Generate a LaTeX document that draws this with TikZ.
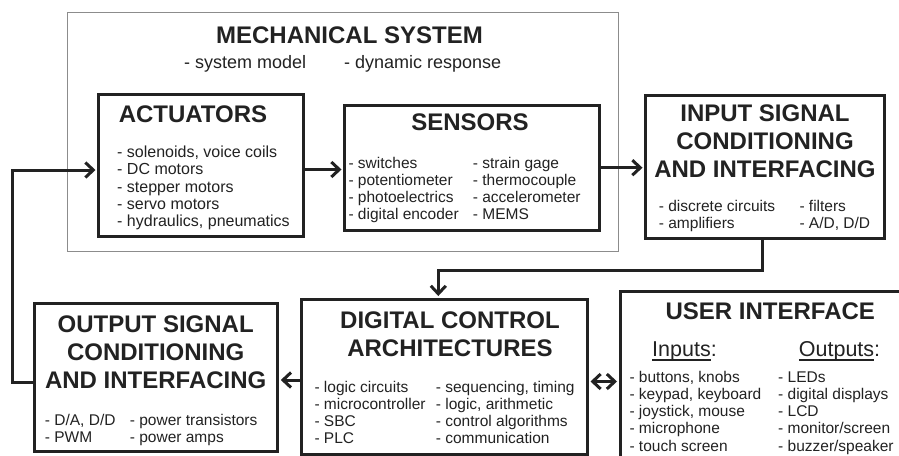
\documentclass[tikz,border=0pt]{standalone}
\usepackage{fontspec}
\setmainfont{Liberation Sans}
\usetikzlibrary{arrows.meta,calc}
\definecolor{ink}{HTML}{222222}
\definecolor{framegray}{HTML}{8C8C8C}
\newcommand\ttlfont{\bfseries\fontsize{24}{28}\selectfont}
\newcommand\itmfont{\fontsize{15.5}{17.2}\selectfont}
\newcommand\actfont{\fontsize{16}{17.2}\selectfont}
\newcommand\colbox[1]{\parbox[t]{200pt}{\raggedright #1}}
\newcommand\ttlbox[1]{\parbox[t]{260pt}{\centering #1}}
\newcommand\undl[1]{\setbox0\hbox{#1}\rlap{\rule[-4pt]{\wd0}{1.3pt}}\box0}
\tikzset{
  blk/.style={draw=ink, line width=3pt, inner sep=0pt, anchor=north west},
  ttl/.style={anchor=base, inner sep=0pt, font=\ttlfont, text=ink},
  itm/.style={anchor=base west, inner sep=0pt, font=\itmfont, text=ink},
  conn/.style={draw=ink, line width=3pt, line join=miter},
  arr/.style={-{Straight Barb[length=8pt,width=15pt]}, shorten >=1.5pt},
  arrboth/.style={{Straight Barb[length=8pt,width=15pt]}-{Straight Barb[length=8pt,width=15pt]}, shorten >=1.5pt, shorten <=1.5pt}
}
\begin{document}
\begin{tikzpicture}[x=1pt,y=-1pt]
\useasboundingbox (0,0) rectangle (899,455);
\clip (0,0) rectangle (899,455);
\fill[white] (0,0) rectangle (899,455);

% mechanical system frame
\node[draw=framegray, line width=1.2pt, inner sep=0pt, anchor=north west,
      minimum width=551pt, minimum height=239pt] (mech) at (67,12) {};
\node[ttl] (mechT) at (349.5,43) {MECHANICAL SYSTEM};
\node[itm, font=\fontsize{18}{20}\selectfont] (mechA) at (184,68) {- system model};
\node[itm, font=\fontsize{18}{20}\selectfont] (mechB) at (344,68) {- dynamic response};

% actuators
\node[blk, minimum width=205pt, minimum height=142pt] (act) at (97,93) {};
\node[ttl] (actT) at (193,122.7) {ACTUATORS};
\node[itm, font=\actfont] (actL) at (117,157.7) {\colbox{- solenoids, voice coils\\- DC motors\\- stepper motors\\- servo motors\\- hydraulics, pneumatics}};

% sensors
\node[blk, minimum width=255pt, minimum height=124.5pt] (sens) at (343,104) {};
\node[ttl] (sensT) at (470,130.7) {SENSORS};
\node[itm] (sensL) at (348.3,168.3) {\colbox{- switches\\- potentiometer\\- photoelectrics\\- digital encoder}};
\node[itm] (sensR) at (472.7,168.3) {\colbox{- strain gage\\- thermocouple\\- accelerometer\\- MEMS}};

% input signal conditioning
\node[blk, minimum width=239pt, minimum height=143pt] (inp) at (644,93.5) {};
\node[ttl] (inpT) at (765,121.3) {\ttlbox{INPUT SIGNAL\\CONDITIONING\\AND INTERFACING}};
\node[itm] (inpL) at (658.7,211.3) {\colbox{- discrete circuits\\- amplifiers}};
\node[itm] (inpR) at (799.3,211.3) {\colbox{- filters\\- A/D, D/D}};

% output signal conditioning
\node[blk, minimum width=243.3pt, minimum height=148.5pt] (out) at (33,301.5) {};
\node[ttl] (outT) at (155.7,332.7) {\ttlbox{OUTPUT SIGNAL\\CONDITIONING\\AND INTERFACING}};
\node[itm] (outL) at (44.7,425.3) {\colbox{- D/A, D/D\\- PWM}};
\node[itm] (outR) at (129.7,425.3) {\colbox{- power transistors\\- power amps}};

% digital control
\node[blk, minimum width=286.5pt, minimum height=155pt] (dig) at (299.5,297.5) {};
\node[ttl] (digT) at (450,328.7) {\ttlbox{DIGITAL CONTROL\\ARCHITECTURES}};
\node[itm] (digL) at (314.3,392) {\colbox{- logic circuits\\- microcontroller\\- SBC\\- PLC}};
\node[itm] (digR) at (435.7,392) {\colbox{- sequencing, timing\\- logic, arithmetic\\- control algorithms\\- communication}};

% user interface
\node[blk, minimum width=300pt, minimum height=200pt] (ui) at (618.5,289.5) {};
\node[ttl] (uiT) at (770.3,319.7) {USER INTERFACE};
\node[itm, font=\fontsize{21.5}{24}\selectfont] (uiIn) at (652,356.7) {\undl{Inputs}:};
\node[itm, font=\fontsize{21.5}{24}\selectfont] (uiOut) at (798.7,356.7) {\undl{Outputs}:};
\node[itm] (uiL) at (629.3,382.3) {\colbox{- buttons, knobs\\- keypad, keyboard\\- joystick, mouse\\- microphone\\- touch screen}};
\node[itm] (uiR) at (778,382.3) {\colbox{- LEDs\\- digital displays\\- LCD\\- monitor/screen\\- buzzer/speaker}};

% connectors
\coordinate (yAS) at (0,169.5);
\coordinate (ySI) at (0,167.7);
\coordinate (fbA) at (12.7,382);
\coordinate (fbB) at (12.7,170);
\coordinate (bendR) at (762.7,270);
\coordinate (bendL) at (438.3,270);
\coordinate (yDO) at (0,380);
\coordinate (yDU) at (0,381.5);

\draw[conn,arr] (act.east |- yAS) -- (sens.west |- yAS);
\draw[conn,arr] (sens.east |- ySI) -- (inp.west |- ySI);
\draw[conn,arr] (inp.south -| bendR) -- (bendR) -- (bendL) -- (dig.north -| bendL);
\draw[conn,arr] (dig.west |- yDO) -- (out.east |- yDO);
\draw[conn,arrboth] (dig.east |- yDU) -- (ui.west |- yDU);
\draw[conn,arr] (out.west |- fbA) -- (fbA) -- (fbB) -- (act.west |- fbB);
\end{tikzpicture}
\end{document}
